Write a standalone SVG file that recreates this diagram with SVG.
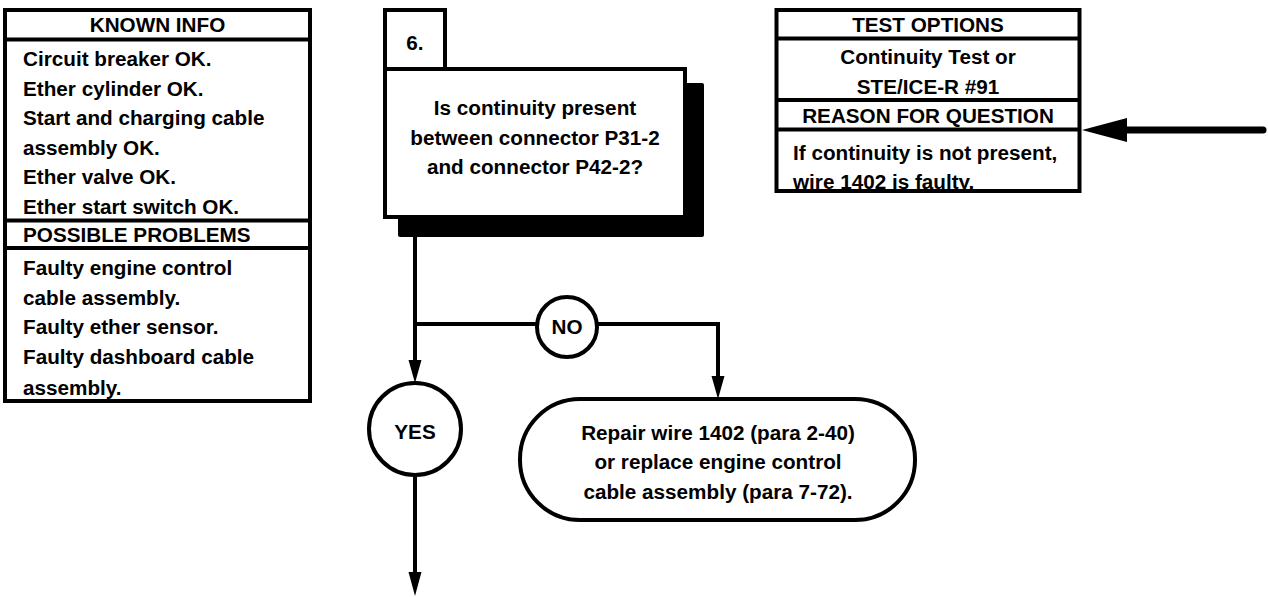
<svg xmlns="http://www.w3.org/2000/svg" width="1268" height="597" viewBox="0 0 1268 597">
<style>
text{font-family:"Liberation Sans",Arial,sans-serif;font-weight:bold;font-size:20.7px;fill:#000}
.c{text-anchor:middle}
.box{fill:#fff;stroke:#000;stroke-width:4}
.ln{stroke:#000;stroke-width:4;fill:none}
.conn{stroke:#000;stroke-width:4;fill:none}
</style>
<rect width="1268" height="597" fill="#fff"/>

<g id="known-info">
<rect class="box" x="5" y="10" width="305" height="391"/>
<line class="ln" x1="5" y1="39.5" x2="310" y2="39.5"/>
<line class="ln" x1="5" y1="220.5" x2="310" y2="220.5"/>
<line class="ln" x1="5" y1="248" x2="310" y2="248"/>
<text class="c" x="157.5" y="32">KNOWN INFO</text>
<text x="23" y="66">Circuit breaker OK.</text>
<text x="23" y="95.6">Ether cylinder OK.</text>
<text x="23" y="125">Start and charging cable</text>
<text x="23" y="155">assembly OK.</text>
<text x="23" y="184">Ether valve OK.</text>
<text x="23" y="214">Ether start switch OK.</text>
<text x="23" y="242">POSSIBLE PROBLEMS</text>
<text x="23" y="275">Faulty engine control</text>
<text x="23" y="305">cable assembly.</text>
<text x="23" y="334">Faulty ether sensor.</text>
<text x="23" y="364">Faulty dashboard cable</text>
<text x="23" y="395">assembly.</text>
</g>

<g id="question-6">
<rect x="398" y="83" width="306" height="154" fill="#000" rx="2"/>
<rect class="box" x="385" y="10" width="60" height="59"/>
<rect class="box" x="385" y="69" width="300" height="148"/>
<text class="c" x="415" y="50">6.</text>
<text class="c" x="535" y="115">Is continuity present</text>
<text class="c" x="535" y="145">between connector P31-2</text>
<text class="c" x="535" y="174">and connector P42-2?</text>
</g>

<g id="test-options">
<rect class="box" x="776.5" y="10" width="303" height="181"/>
<line class="ln" x1="776.5" y1="38.5" x2="1079.5" y2="38.5"/>
<line class="ln" x1="776.5" y1="100" x2="1079.5" y2="100"/>
<line class="ln" x1="776.5" y1="129.5" x2="1079.5" y2="129.5"/>
<text class="c" x="928" y="32">TEST OPTIONS</text>
<text class="c" x="928" y="64">Continuity Test or</text>
<text class="c" x="928" y="94">STE/ICE-R #91</text>
<text class="c" x="928" y="123">REASON FOR QUESTION</text>
<text x="793" y="160">If continuity is not present,</text>
<text x="793" y="189">wire 1402 is faulty.</text>
</g>

<g id="no-label">
<circle class="box" cx="567" cy="327" r="30"/>
<text class="c" x="567" y="334">NO</text>
</g>

<g id="yes-label">
<circle class="box" cx="415" cy="429" r="46"/>
<text class="c" x="415" y="439">YES</text>
</g>

<g id="repair">
<rect class="box" x="520" y="399" width="395" height="121" rx="60" ry="60"/>
<text class="c" x="718" y="440">Repair wire 1402 (para 2-40)</text>
<text class="c" x="718" y="469">or replace engine control</text>
<text class="c" x="718" y="499">cable assembly (para 7-72).</text>
</g>

<g id="connectors">
<path class="conn" d="M415,237 V362"/>
<path d="M408.5,360 L421.5,360 L415,383 Z" fill="#000"/>
<path class="conn" d="M415,324 H537"/>
<path class="conn" d="M597,324 H718 V378"/>
<path d="M711.5,376 L724.5,376 L718,399 Z" fill="#000"/>
<path class="conn" d="M415,475 V574"/>
<path d="M408.5,572 L421.5,572 L415,596 Z" fill="#000"/>
<path d="M1263,130 H1120" stroke="#000" stroke-width="7" stroke-linecap="round" fill="none"/>
<path d="M1082,130 L1127,118 L1127,142 Z" fill="#000"/>
</g>
</svg>
